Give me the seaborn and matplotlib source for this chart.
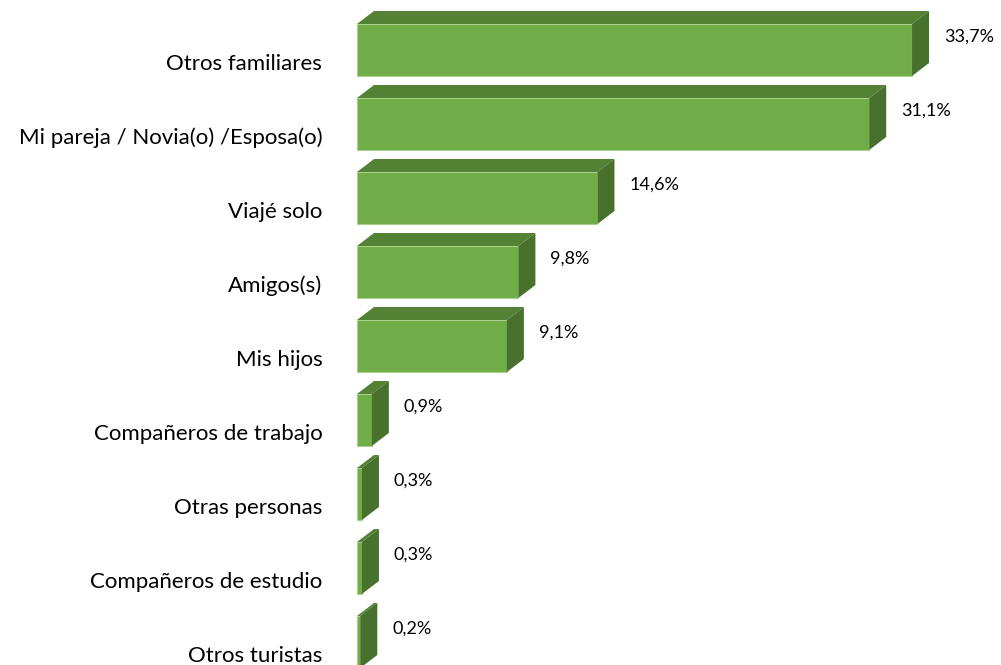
import numpy as np
import matplotlib.pyplot as plt
import seaborn as sns
from matplotlib.patches import Polygon

sns.set_theme(style="white")
plt.rcParams['font.family'] = ['Lato', 'DejaVu Sans']

categories = ['Otros familiares', 'Mi pareja / Novia(o) /Esposa(o)', 'Viajé solo',
              'Amigos(s)', 'Mis hijos', 'Compañeros de trabajo', 'Otras personas',
              'Compañeros de estudio', 'Otros turistas']
values = [33.7, 31.1, 14.6, 9.8, 9.1, 0.9, 0.3, 0.3, 0.2]
labels = ['33,7%', '31,1%', '14,6%', '9,8%', '9,1%', '0,9%', '0,3%', '0,3%', '0,2%']

front = '#70AD47'
top_col = '#548235'
side_col = '#49712E'

W, H = 1001, 665
px_per_unit = 16.47      # pixels per percent
row_px = 74              # pixels per category
left_px = 357
first_label_px = 62

fig = plt.figure(figsize=(W / 100, H / 100), dpi=100)
ax = fig.add_axes([left_px / W, 0, 1 - left_px / W, 1])

sns.barplot(x=values, y=categories, orient='h', color=front, width=52 / row_px,
            saturation=1, edgecolor='#A9D18E', linewidth=0.8, ax=ax)

ax.set_xlim(0, (W - left_px) / px_per_unit)
ax.set_ylim((H - first_label_px) / row_px, -first_label_px / row_px)

dx = 17 / px_per_unit
dy = 13 / row_px
shift = 12 / row_px
gap = 15 / px_per_unit

for p, lab in zip(ax.patches, labels):
    p.set_y(p.get_y() - shift)
    w = p.get_width()
    yt = p.get_y()
    yb = yt + p.get_height()
    ax.add_patch(Polygon([(0, yt), (w, yt), (w + dx, yt - dy), (dx, yt - dy)],
                         closed=True, facecolor=top_col, edgecolor='none', zorder=2))
    ax.add_patch(Polygon([(w, yt), (w, yb), (w + dx, yb - dy), (w + dx, yt - dy)],
                         closed=True, facecolor=side_col, edgecolor='none', zorder=2))
    ax.text(w + dx + gap, yt + 13 / row_px, lab, va='center', ha='left',
            fontsize=13, color='black')

ax.tick_params(axis='y', length=0, pad=25, labelsize=16, labelcolor='black')
ax.set_xticks([])
ax.set_xlabel('')
ax.set_ylabel('')
for s in ax.spines.values():
    s.set_visible(False)

fig.savefig('out.png', dpi=100)
